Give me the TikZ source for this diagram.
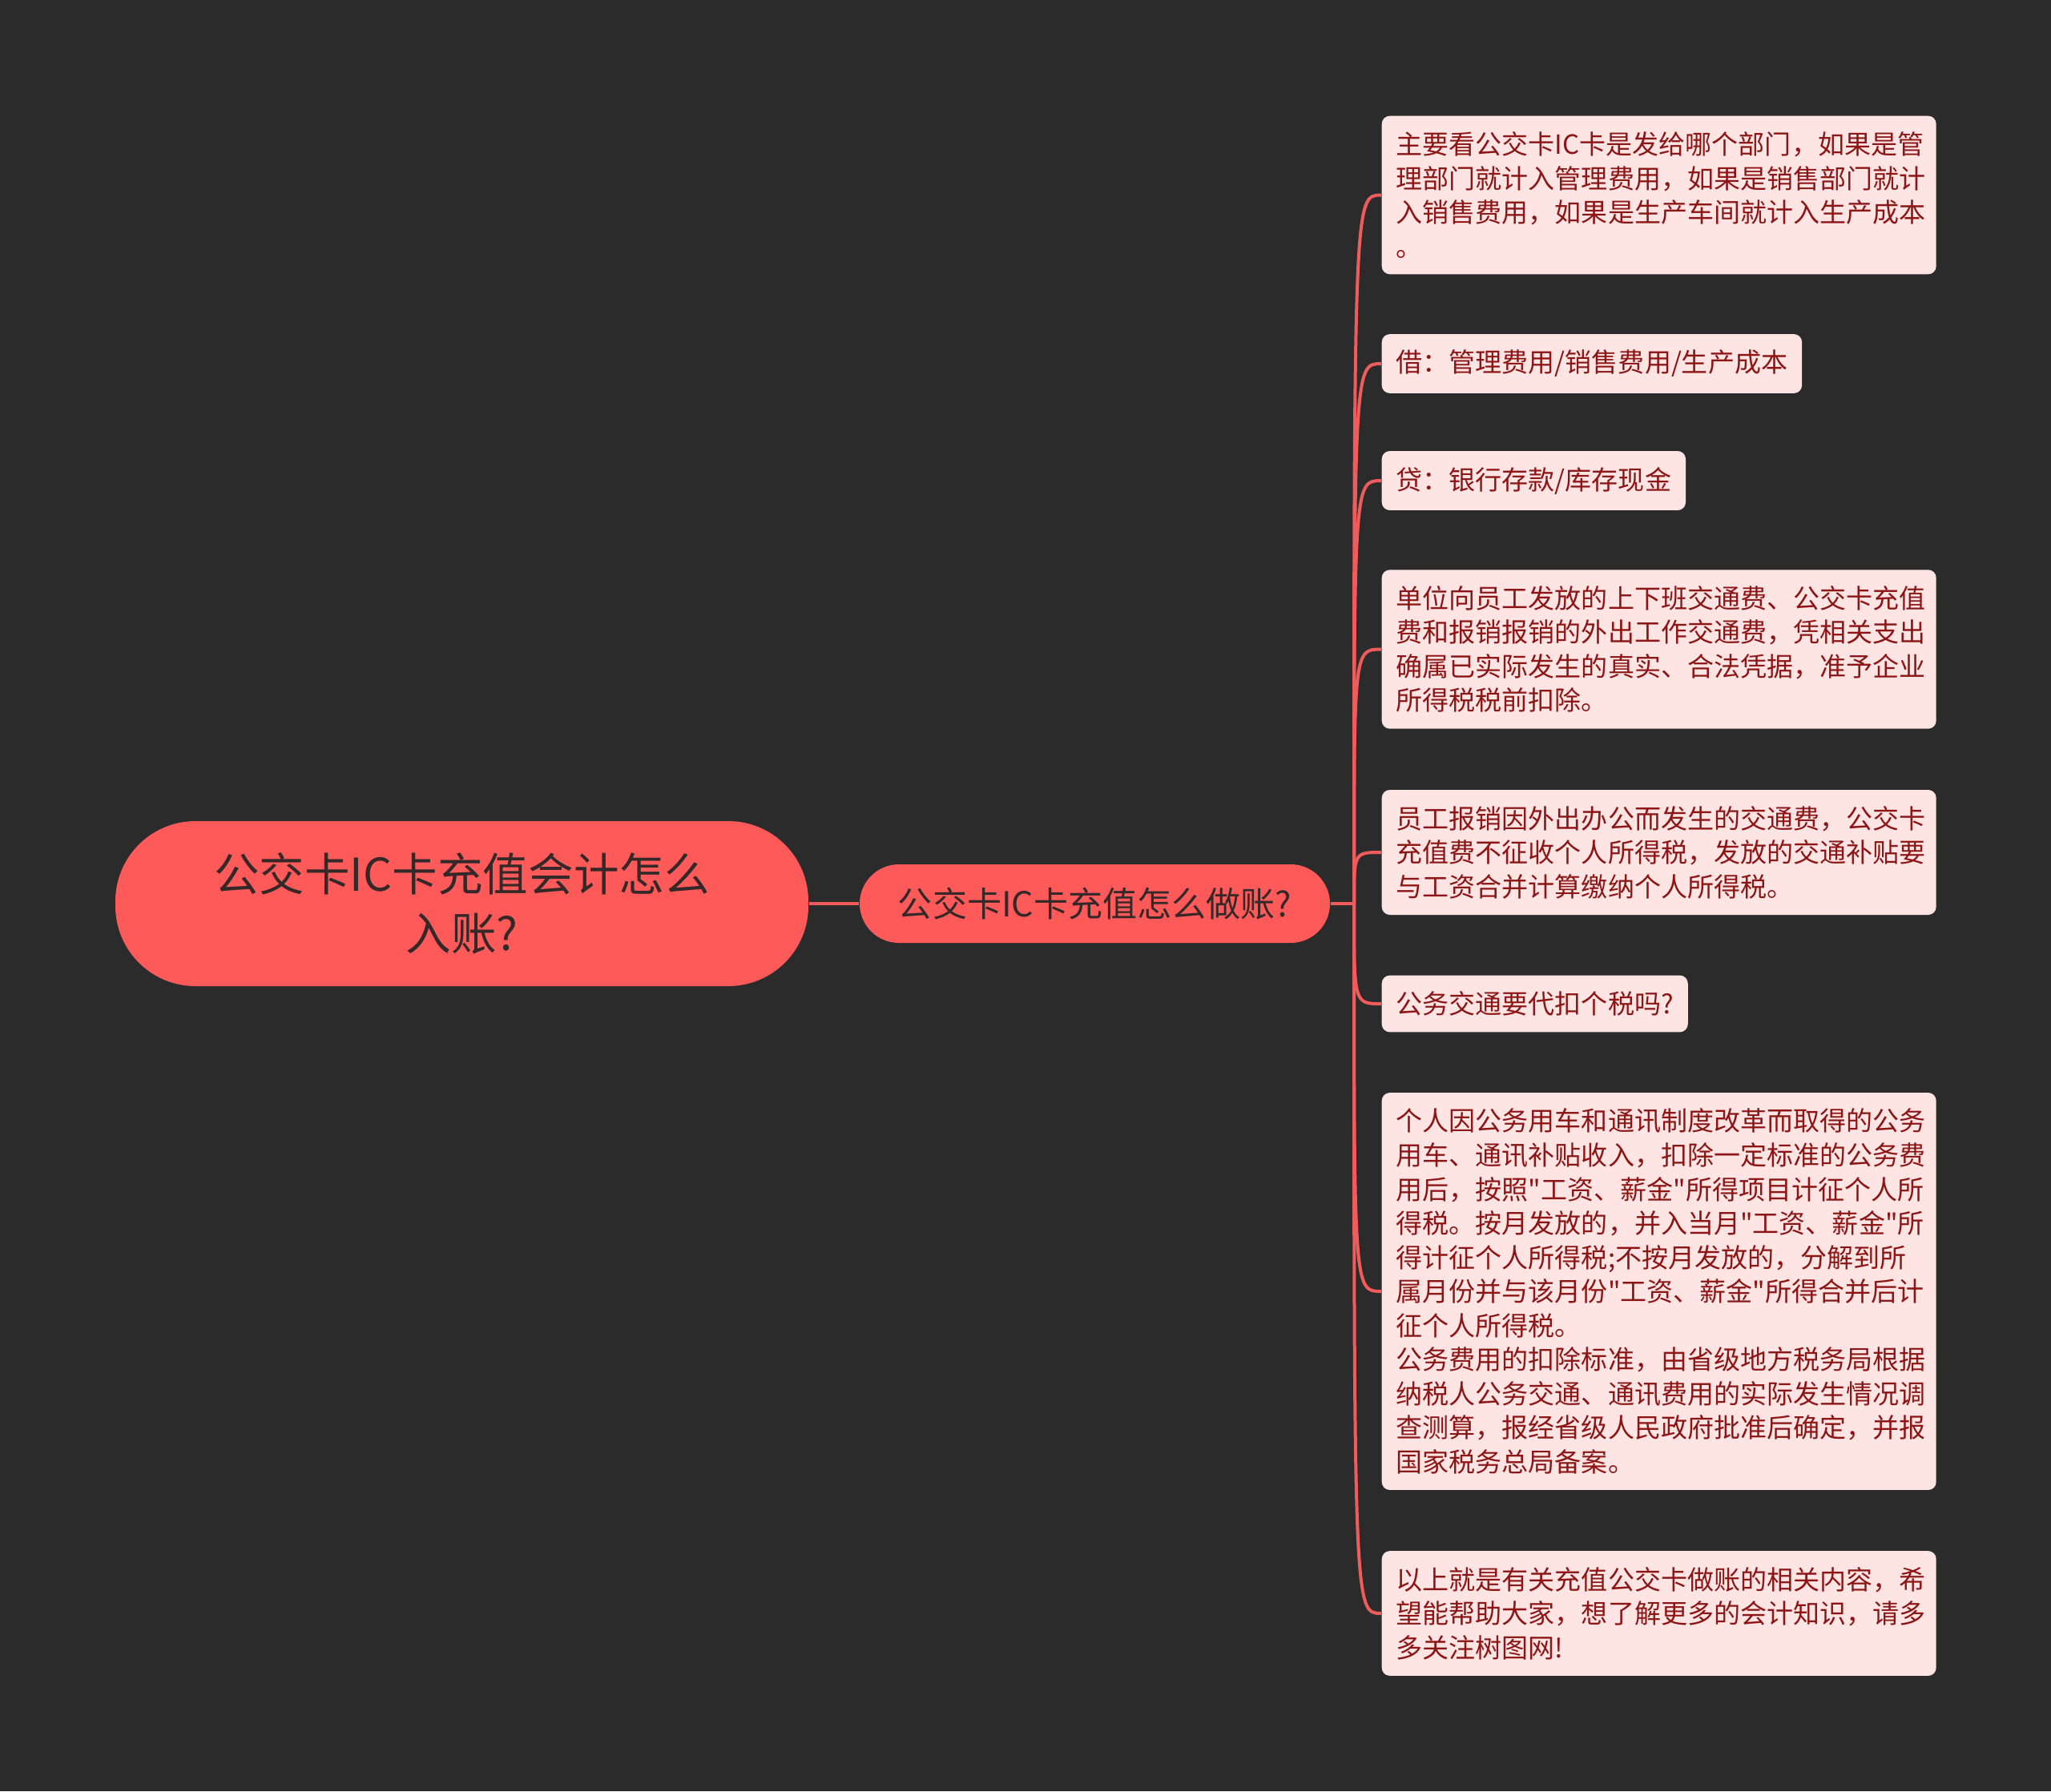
\documentclass[tikz,border=0pt]{standalone}
\usepackage{fontspec}
\newfontfamily\cjk{Noto Sans CJK SC}
\usetikzlibrary{positioning}
\definecolor{pagebg}{RGB}{43,43,43}
\definecolor{rootfill}{RGB}{255,90,90}
\definecolor{rootink}{RGB}{52,40,40}
\definecolor{leaffill}{RGB}{255,228,228}
\definecolor{leafink}{RGB}{140,22,22}
\definecolor{linkline}{RGB}{240,92,92}

\begin{document}
\begin{tikzpicture}[
   rootb/.style={fill=rootfill,rounded corners=1cm,minimum width=8.65cm,
                 minimum height=2.06cm,align=center,text=rootink,
                 font=\cjk\fontsize{16.1}{20.9}\selectfont},
   topicb/.style={fill=rootfill,rounded corners=0.49cm,minimum width=5.87cm,
                  minimum height=0.98cm,text=rootink,
                  font=\cjk\fontsize{12.25}{14}\selectfont},
   leafb/.style={fill=leaffill,rounded corners=0.1cm,anchor=west,align=left,
                 text=leafink,inner xsep=0.18cm,inner ysep=0.2cm,
                 font=\cjk\fontsize{9.4}{12.1}\selectfont},
   wide/.style={text width=6.56cm},
   link/.style={draw=linkline,line width=0.04cm}]

\fill[pagebg] (0,0) rectangle (25.6,-22.36);

% root and topic
\node[rootb] (root) at (5.765,-11.28) {公交卡IC卡充值会计怎么\\入账?};
\node[topicb] (topic) at (13.665,-11.28) {公交卡IC卡充值怎么做账?};
\draw[link] (root) -- (topic);

% leaves
\node[leafb,wide] (l1) at (17.24,-2.435) {主要看公交卡IC卡是发给哪个部门，如果是管\\
   理部门就计入管理费用，如果是销售部门就计\\
   入销售费用，如果是生产车间就计入生产成本\\
   。};
\node[leafb] (l2) at (17.24,-4.54) {借：管理费用/销售费用/生产成本};
\node[leafb] (l3) at (17.24,-6.00) {贷：银行存款/库存现金};
\node[leafb,wide] (l4) at (17.24,-8.105) {单位向员工发放的上下班交通费、公交卡充值\\
   费和报销报销的外出工作交通费，凭相关支出\\
   确属已实际发生的真实、合法凭据，准予企业\\
   所得税税前扣除。};
\node[leafb,wide] (l5) at (17.24,-10.64) {员工报销因外出办公而发生的交通费，公交卡\\
   充值费不征收个人所得税，发放的交通补贴要\\
   与工资合并计算缴纳个人所得税。};
\node[leafb] (l6) at (17.24,-12.53) {公务交通要代扣个税吗?};
\node[leafb,wide] (l7) at (17.24,-16.12) {个人因公务用车和通讯制度改革而取得的公务\\
   用车、通讯补贴收入，扣除一定标准的公务费\\
   用后，按照"工资、薪金"所得项目计征个人所\\
   得税。按月发放的，并入当月"工资、薪金"所\\
   得计征个人所得税;不按月发放的，分解到所\\
   属月份并与该月份"工资、薪金"所得合并后计\\
   征个人所得税。\\
   公务费用的扣除标准，由省级地方税务局根据\\
   纳税人公务交通、通讯费用的实际发生情况调\\
   查测算，报经省级人民政府批准后确定，并报\\
   国家税务总局备案。};
\node[leafb,wide] (l8) at (17.24,-20.14) {以上就是有关充值公交卡做账的相关内容，希\\
   望能帮助大家，想了解更多的会计知识，请多\\
   多关注树图网!};

% connectors
\coordinate (fork) at (16.9,-11.28);
\draw[link] (topic.east) -- (fork);
\foreach \n in {1,...,8}
   \draw[link] (fork) .. controls (fork |- l\n.west) .. (l\n.west);
\end{tikzpicture}
\end{document}
